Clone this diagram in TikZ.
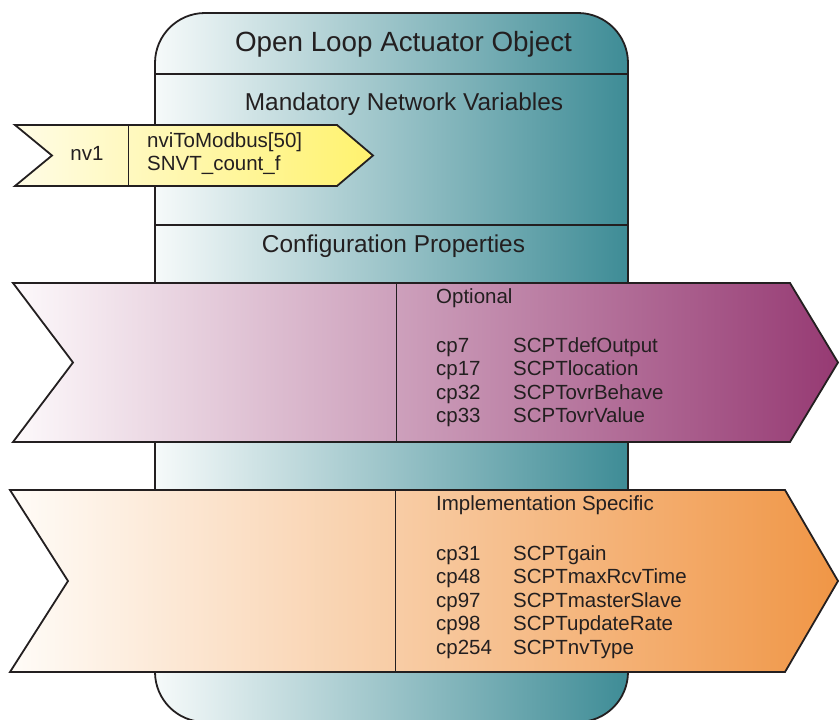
\documentclass[tikz,border=0pt]{standalone}
\usepackage{fontspec}
\setmainfont{Liberation Sans}
\setsansfont{Liberation Sans}

\definecolor{ink}{RGB}{35,31,32}
\definecolor{bodyleft}{RGB}{246,250,250}
\definecolor{bodyright}{RGB}{62,140,150}
\definecolor{nvleft}{RGB}{255,252,230}
\definecolor{nvright}{RGB}{255,242,110}
\definecolor{optleft}{RGB}{253,249,251}
\definecolor{optright}{RGB}{150,58,115}
\definecolor{implleft}{RGB}{255,252,248}
\definecolor{implright}{RGB}{240,150,70}

\newcommand{\titlefont}{\fontsize{27.8}{32}\selectfont}
\newcommand{\headfont}{\fontsize{24.4}{28}\selectfont}
\newcommand{\cpfont}{\fontsize{20.5}{23.5}\selectfont}
\newcommand{\cprow}[2]{\makebox[77pt][l]{#1}#2}

\begin{document}
\begin{tikzpicture}[x=1pt, y=-1pt,
    outline/.style={draw=ink, line width=1.8pt, line join=miter},
    divider/.style={draw=ink, line width=1pt},
    every node/.style={inner sep=0pt, text=ink}]\sffamily
  \useasboundingbox (0,0) rectangle (839,720);

  % object body
  \draw[outline, left color=bodyleft, right color=bodyright, rounded corners=50pt]
    (155,722) rectangle (628,13);
  \draw[outline] (155,74) -- (628,74);
  \draw[outline] (155,225) -- (628,225);

  \node[anchor=base, font=\titlefont]
    (title) at (403.5, 52)
    {Open Loop Actuator Object};

  \node[anchor=base, font=\headfont]
    (mnv) at (404, 110)
    {Mandatory Network Variables};

  \node[anchor=base, font=\headfont]
    (cfg) at (393.5, 252)
    {Configuration Properties};

  % nv1 flag (multi-line nodes sit on their last baseline)
  \draw[outline, left color=nvleft, right color=nvright]
    (15,125) -- (337,125) -- (373,155.5) -- (337,186) -- (15,186) -- (52,155.5) -- cycle;
  \draw[divider] (128,125) -- (128,186);

  \node[anchor=base, font=\cpfont]
    (nv) at (87, 160)
    {nv1};

  \node[anchor=base west, align=left, font=\cpfont]
    (nvname) at (147, 170.5)
    {nviToModbus[50]\\
    SNVT\_count\_f};

  % optional properties
  \draw[outline, left color=optleft, right color=optright]
    (13,283) -- (790,283) -- (838,362.5) -- (790,442) -- (13,442) -- (73,362.5) -- cycle;
  \draw[divider] (396,283) -- (396,442);

  \node[anchor=base west, font=\cpfont]
    (opt) at (436, 303)
    {Optional};

  \node[anchor=base west, align=left, font=\cpfont]
    (optlist) at (436, 422.5)
    {\cprow{cp7}{SCPTdefOutput}\\
    \cprow{cp17}{SCPTlocation}\\
    \cprow{cp32}{SCPTovrBehave}\\
    \cprow{cp33}{SCPTovrValue}};

  % implementation specific properties
  \draw[outline, left color=implleft, right color=implright]
    (10,490) -- (785,490) -- (838,581) -- (785,672) -- (10,672) -- (68,581) -- cycle;
  \draw[divider] (395,490) -- (395,672);

  \node[anchor=base west, font=\cpfont]
    (impl) at (436, 510)
    {Implementation Specific};

  \node[anchor=base west, align=left, font=\cpfont]
    (impllist) at (436, 654)
    {\cprow{cp31}{SCPTgain}\\
    \cprow{cp48}{SCPTmaxRcvTime}\\
    \cprow{cp97}{SCPTmasterSlave}\\
    \cprow{cp98}{SCPTupdateRate}\\
    \cprow{cp254}{SCPTnvType}};

\end{tikzpicture}
\end{document}
